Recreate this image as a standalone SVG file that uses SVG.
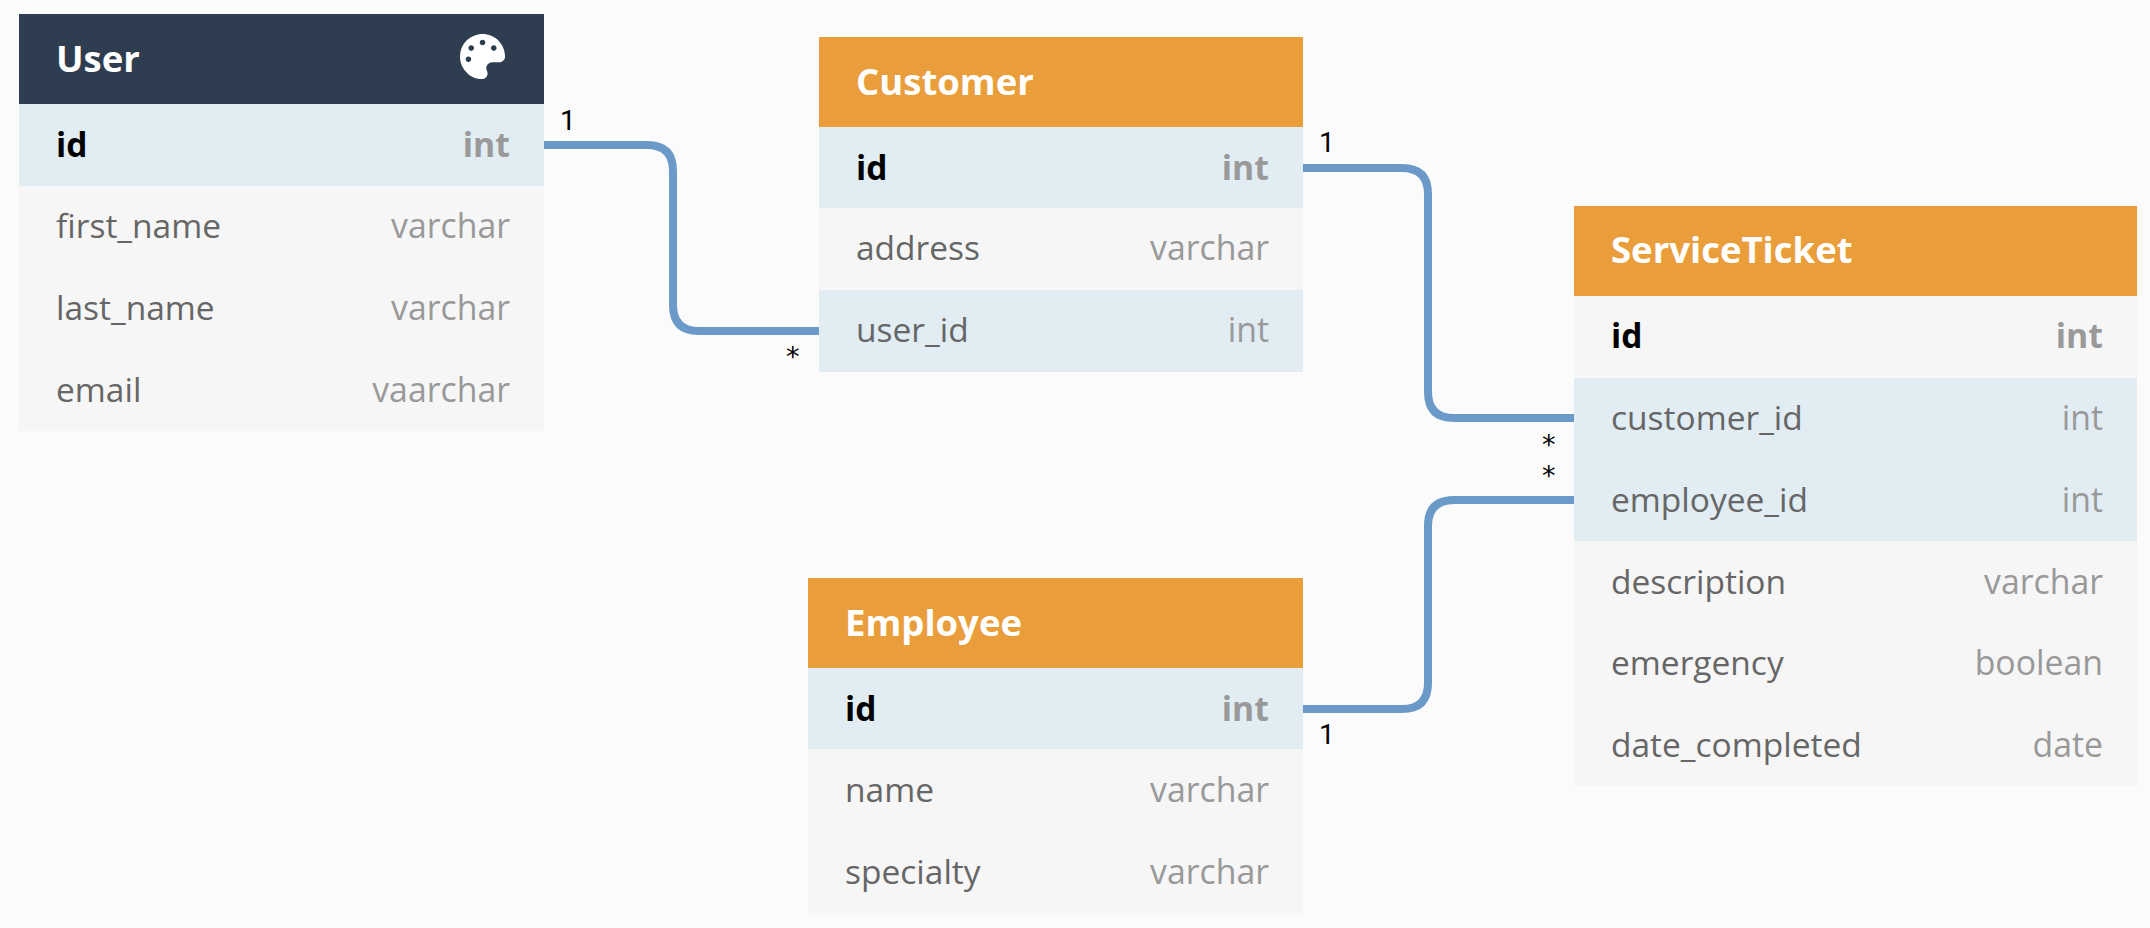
<svg xmlns="http://www.w3.org/2000/svg" width="2150" height="928" viewBox="0 0 2150 928">
<style>
text{font-family:"Open Sans","Noto Sans",sans-serif}
.h{font-size:36.5px;font-weight:700;fill:#fff}
.n{font-size:33.5px;fill:#666}
.k{font-size:33.5px;font-weight:700;fill:#000}
.t{font-size:33.8px;fill:#999;text-anchor:end}
.tk{font-size:33.8px;font-weight:700;fill:#999;text-anchor:end}
.o{fill:#e99e3b}.d{fill:#2f3d50}.b{fill:#e1ecf3}.g{fill:#f6f6f6}
.c{fill:none;stroke:#6b9ac8;stroke-width:8}
.m{font-family:Roboto,"Liberation Sans",sans-serif;font-size:28px;fill:#000}
.s{font-family:"DejaVu Sans",sans-serif;font-size:27px;fill:#000}
</style>
<rect width="2150" height="928" fill="#fbfbfb"/>
<g id="connectors">
<path class="c" d="M544 145H647Q673 145 673 171V305Q673 331 699 331H819"/>
<path class="c" d="M1303 168H1402Q1428 168 1428 194V392Q1428 418 1454 418H1574"/>
<path class="c" d="M1303 709H1402Q1428 709 1428 683V526Q1428 500 1454 500H1574"/>
<text class="m" x="560" y="130">1</text><text class="s" x="786" y="366">*</text>
<text class="m" x="1319" y="152">1</text><text class="s" x="1542" y="454">*</text>
<text class="s" x="1542" y="485">*</text><text class="m" x="1319" y="744">1</text>
</g>
<g id="User">
<rect class="d" x="19" y="14" width="525" height="90"/>
<rect class="b" x="19" y="104" width="525" height="82"/>
<rect class="g" x="19" y="186" width="525" height="245"/>
<text class="h" x="56" y="72">User</text>
<path transform="translate(460 34) scale(.088)" fill="#fff" d="M204.3 5C104.9 24.4 24.8 104.3 5.2 203.4c-37 187 131.7 326.4 258.8 306.7 41.2-6.4 61.4-54.6 42.5-91.7-23.1-45.4 9.9-98.4 60.9-98.4h79.7c35.8 0 64.8-29.6 64.9-65.3C511.5 97.1 368.1-26.9 204.3 5zM96 320c-17.7 0-32-14.3-32-32s14.3-32 32-32 32 14.3 32 32-14.3 32-32 32zm32-128c-17.7 0-32-14.3-32-32s14.3-32 32-32 32 14.3 32 32-14.3 32-32 32zm128-64c-17.7 0-32-14.3-32-32s14.3-32 32-32 32 14.3 32 32-14.3 32-32 32zm128 64c-17.7 0-32-14.3-32-32s14.3-32 32-32 32 14.3 32 32-14.3 32-32 32z"/>
<text class="k" x="56" y="157">id</text><text class="tk" x="510" y="157">int</text>
<text class="n" x="56" y="238">first_name</text><text class="t" x="510" y="238">varchar</text>
<text class="n" x="56" y="320">last_name</text><text class="t" x="510" y="320">varchar</text>
<text class="n" x="56" y="402">email</text><text class="t" x="510" y="402">vaarchar</text>
</g>
<g id="Customer">
<rect class="o" x="819" y="37" width="484" height="90"/>
<rect class="b" x="819" y="127" width="484" height="81"/>
<rect class="g" x="819" y="208" width="484" height="82"/>
<rect class="b" x="819" y="290" width="484" height="82"/>
<text class="h" x="856" y="95">Customer</text>
<text class="k" x="856" y="180">id</text><text class="tk" x="1269" y="180">int</text>
<text class="n" x="856" y="260">address</text><text class="t" x="1269" y="260">varchar</text>
<text class="n" x="856" y="342">user_id</text><text class="t" x="1269" y="342">int</text>
</g>
<g id="Employee">
<rect class="o" x="808" y="578" width="495" height="90"/>
<rect class="b" x="808" y="668" width="495" height="81"/>
<rect class="g" x="808" y="749" width="495" height="164"/>
<text class="h" x="845" y="636">Employee</text>
<text class="k" x="845" y="721">id</text><text class="tk" x="1269" y="721">int</text>
<text class="n" x="845" y="802">name</text><text class="t" x="1269" y="802">varchar</text>
<text class="n" x="845" y="884">specialty</text><text class="t" x="1269" y="884">varchar</text>
</g>
<g id="ServiceTicket">
<rect class="o" x="1574" y="206" width="563" height="90"/>
<rect class="g" x="1574" y="296" width="563" height="82"/>
<rect class="b" x="1574" y="378" width="563" height="163"/>
<rect class="g" x="1574" y="541" width="563" height="245"/>
<text class="h" x="1611" y="263">ServiceTicket</text>
<text class="k" x="1611" y="348">id</text><text class="tk" x="2103" y="348">int</text>
<text class="n" x="1611" y="430">customer_id</text><text class="t" x="2103" y="430">int</text>
<text class="n" x="1611" y="512">employee_id</text><text class="t" x="2103" y="512">int</text>
<text class="n" x="1611" y="594">description</text><text class="t" x="2103" y="594">varchar</text>
<text class="n" x="1611" y="675">emergency</text><text class="t" x="2103" y="675">boolean</text>
<text class="n" x="1611" y="757">date_completed</text><text class="t" x="2103" y="757">date</text>
</g>
</svg>
